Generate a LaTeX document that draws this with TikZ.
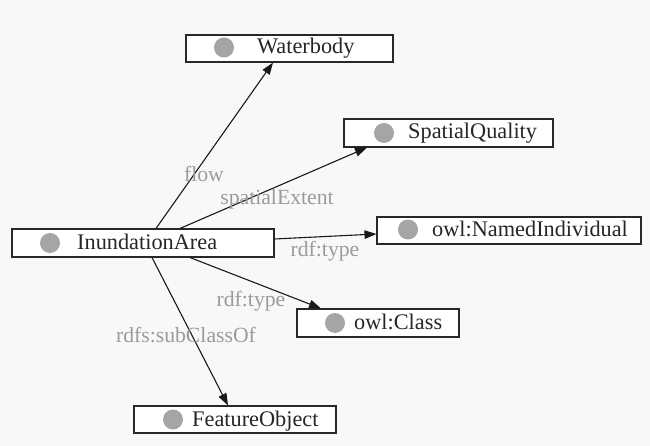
\documentclass[tikz,border=0pt]{standalone}
\usepackage{fontspec}
\setmainfont{Liberation Serif}
\usetikzlibrary{arrows.meta}
\definecolor{canvas}{RGB}{248,248,248}
\definecolor{dotgray}{RGB}{165,165,168}
\definecolor{relgray}{RGB}{155,155,155}
\definecolor{frame}{RGB}{40,40,40}
\begin{document}
\begin{tikzpicture}[x=1pt,y=-1pt,
  classbox/.style={draw=frame,line width=1.1pt,fill=white,inner sep=0pt,minimum height=27pt},
  classdot/.style={circle,fill=dotgray,inner sep=0pt,minimum size=20pt},
  classname/.style={anchor=base west,inner sep=0pt,font=\fontsize{22.3}{25}\selectfont,text=black!85},
  relname/.style={anchor=base,inner sep=0pt,font=\fontsize{21.7}{24}\selectfont,text=relgray},
  link/.style={-{Triangle[length=12pt,width=8.5pt]},line width=1.1pt,draw=black!90}]
% canvas
\fill[canvas] (0,0) rectangle (650,446);
\useasboundingbox (0,0) rectangle (650,446);

% class boxes
\node[classbox,minimum width=207pt] (water) at (289.5,48.5) {};
\node[classdot] (waterdot) at (224,47.5) {};
\node[classname] (watertxt) at (257,54) {Waterbody};

\node[classbox,minimum width=209pt,minimum height=28pt] (spatial) at (448.5,133) {};
\node[classdot] (spatialdot) at (384,133) {};
\node[classname] (spatialtxt) at (408,139) {SpatialQuality};

\node[classbox,minimum width=262pt,minimum height=28pt] (inund) at (143,243) {};
\node[classdot] (inunddot) at (50,243) {};
\node[classname] (inundtxt) at (77,249.5) {InundationArea};

\node[classbox,minimum width=264pt] (named) at (509,230.5) {};
\node[classdot] (nameddot) at (408,229.5) {};
\node[classname] (namedtxt) at (432,236.5) {owl:NamedIndividual};

\node[classbox,minimum width=162pt,minimum height=28pt] (cls) at (378,323) {};
\node[classdot] (clsdot) at (335,323) {};
\node[classname] (clstxt) at (354,329) {owl:Class};

\node[classbox,minimum width=202pt] (feat) at (235,419.5) {};
\node[classdot] (featdot) at (173,419.5) {};
\node[classname] (feattxt) at (192,426) {FeatureObject};

% relations
\draw[link] ([xshift=13pt]inund.north) -- ([xshift=-16.5pt]water.south);
\draw[link] ([xshift=37pt]inund.north) -- ([xshift=-81.5pt]spatial.south);
\draw[link] ([yshift=4pt]inund.east) -- ([yshift=-3.5pt]named.west);
\draw[link] ([xshift=47pt]inund.south) -- ([xshift=-57pt]cls.north);
\draw[link] ([xshift=9pt]inund.south) -- ([xshift=-7pt]feat.north);

% relation labels
\node[relname] (lflow) at (204,182) {flow};
\node[relname] (lextent) at (277,205) {spatialExtent};
\node[relname] (ltype1) at (325,256) {rdf:type};
\node[relname] (ltype2) at (251,306) {rdf:type};
\node[relname] (lsub) at (186,342) {rdfs:subClassOf};
\end{tikzpicture}
\end{document}
